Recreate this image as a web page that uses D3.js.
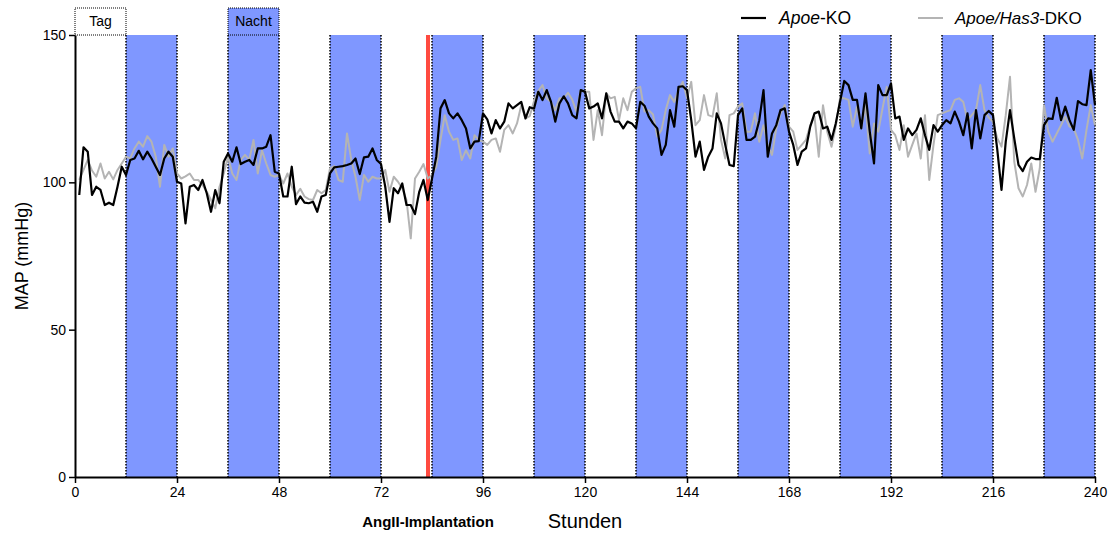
<!DOCTYPE html>
<html><head><meta charset="utf-8">
<script src="https://cdn.jsdelivr.net/npm/d3@7"></script>
<style>body{margin:0;background:#fff;} text{font-family:"Liberation Sans",Arial,sans-serif;}</style>
</head><body><svg id="c" width="1113" height="533"></svg>
<script>
const hours = d3.range(1, 241);
const apoeKO = [95.7,111.9,110.4,95.7,98.5,97.4,92.3,93.1,92.3,98.5,105.3,102.5,107.6,108.1,110.7,107.8,110.4,108.1,105.3,102.5,108.1,110.4,108.7,100.2,
99.6,86.1,98.5,99.1,97.4,100.8,96.3,90,97.4,92.9,107,109.8,107,111.9,106.2,107,107.6,105.9,111.5,111.5,112.1,116,103.6,103,
95.2,95.2,105.3,92.6,95.2,93.1,92.9,93.4,90,95.2,95.7,103,105.1,105.3,105.5,105.9,106.4,108.1,102.8,108.5,108.7,111.5,107.6,106.2,
98.5,86.6,98,96.3,99.6,92.3,92.3,89.2,96.8,100.8,94,101.3,108.7,125.1,127.9,123.4,121.7,123.4,121.1,118.3,111.5,113.8,114,123.4,
121.4,116.6,121.1,118.3,120.6,126.8,125.1,126.2,127.3,121.7,125.5,125,130.7,127.9,131.3,127.3,120.6,126.8,129.2,126.8,122.8,121.7,131.3,130.7,
125.1,125.7,126.8,121.7,130.2,124,120.6,120.6,118.3,120.6,120,118.3,127.3,126,122.3,120,118.3,109.3,112.7,124.5,118.9,132.4,132.6,131.3,
121.1,108.7,113.8,104.2,108.7,111.5,123.4,120,112.7,105.9,105.5,122.8,125.1,114.4,114.4,115.5,121,131.3,108.7,116.6,119.4,124.5,125.1,117.2,
112.7,105.9,110.4,111.5,118.9,123.4,124,118.3,118.9,114.4,120,127.3,134.4,133,128,128,118.3,130.2,117.2,106.4,133,129.6,129.6,133.6,
121.7,122.3,114.4,118.3,116,117.8,121.7,116,111,119.4,117.2,119.4,121.1,120,124,120.6,116,123.4,111.5,124.5,114.9,122.8,124.2,122.8,
111.2,97.4,113.8,124.5,114.9,105.9,103.8,107,108.4,107.9,107.9,119.4,121.7,121.5,128.7,121.1,125.7,121.1,117.8,127.6,126.5,126.2,138.1,126.2];
const apoeHas3 = [100.8,104.2,107.6,104,101.9,106.4,101.3,103.6,101,104.2,106.4,108.7,108.1,111.5,113.8,112.1,115.7,113.8,108.7,98.5,112.7,108.7,111.5,103,
101.3,102,103,100.8,100.8,99.1,96.8,94,91.2,98.5,103,108.7,103,100.8,107.6,109.3,107.6,114.4,103,110.9,106.4,102.5,101.9,102.5,
99.6,103,98.5,95.7,97.8,95.2,94.3,94,97.4,96.3,97.4,104.7,105.5,100.8,100.2,116.6,107.6,101.9,94,102.5,100.2,101.9,101.3,101.3,
104.2,96.8,101.9,100.2,98,94,81,101.3,103.6,106.2,101.3,102.5,105.3,114.4,122.8,117.2,114.4,114.9,107.6,110.9,108.1,116,114.4,113.8,
112.7,114.4,114.9,110.4,117.8,119.4,116.6,120,126.2,121.7,122.5,127.5,131,133,128.5,127.3,124.5,128.5,128.5,130.4,128,124,131.3,130.7,
130.7,114.4,124.5,116,130.2,128.5,129,121.1,128.5,124.5,130.7,131.9,132.4,124,124.5,123,115.5,117.8,124.5,129.6,127.3,131.3,134.1,128.5,
134.1,119.4,121.1,129.6,122.8,122.3,130.2,114.4,108.1,122.8,123.4,125.7,126.8,117.2,117.2,123.4,113.8,119.4,112.7,109.3,118.3,123.4,126.2,118.9,
117.2,111,112.7,114.4,119.4,122.3,108.7,126.2,117.2,112.1,118.9,128.5,128.5,128,118.9,125.7,118.3,126.2,109.8,120,117.2,125,132.4,117.8,
116,111,119.4,108.7,112.7,116.6,108.1,122.8,100.8,112.7,122.8,123.4,124,124.5,128,128.5,127.3,121.1,122.8,124.5,133,124.5,122,120.5,
115,112.1,122.8,135.8,107,98,95.2,99.1,106.4,96.8,104.7,126.2,117.2,113.8,116.6,119.4,122.3,118.9,118.3,114.4,108.1,117.8,126.2,119.4];
const nightStarts = [12,36,60,84,108,132,156,180,204,228];
const xTicks = [0,24,48,72,96,120,144,168,192,216,240];
const yTicks = [0,50,100,150];
const implantHour = 83.06;

const svg = d3.select("#c");
const L=75,R=1095,T=35,B=477;
const x = d3.scaleLinear().domain([0,240]).range([L,R]);
const y = d3.scaleLinear().domain([0,150]).range([B,T]);
const blue = "#7f97ff";

// night bands
const bands = svg.append("g");
nightStarts.forEach(s=>{
  bands.append("rect").attr("x",x(s)).attr("y",T).attr("width",x(s+12)-x(s)).attr("height",B-T).attr("fill",blue);
  [s,s+12].forEach(v=>bands.append("line").attr("x1",x(v)).attr("x2",x(v)).attr("y1",T).attr("y2",B)
    .attr("stroke","#000").attr("stroke-width",1.5).attr("stroke-dasharray","1.5,1.5"));
});
// implantation line
svg.append("line").attr("x1",x(implantHour)).attr("x2",x(implantHour)).attr("y1",T).attr("y2",B)
  .attr("stroke","#ff4a40").attr("stroke-width",4);

const line = d3.line().x((d,i)=>x(hours[i])).y(d=>y(d));
svg.append("path").datum(apoeHas3).attr("d",line).attr("fill","none").attr("stroke","#b4b4b4").attr("stroke-width",2).attr("stroke-linejoin","round");
svg.append("path").datum(apoeKO).attr("d",line).attr("fill","none").attr("stroke","#000").attr("stroke-width",2.2).attr("stroke-linejoin","round");

// axes
const xa = svg.append("g").attr("transform",`translate(0,${B})`)
  .call(d3.axisBottom(x).tickValues(xTicks).tickSize(6).tickPadding(4).tickSizeOuter(0));
const ya = svg.append("g").attr("transform",`translate(${L},0)`)
  .call(d3.axisLeft(y).tickValues(yTicks).tickSize(6).tickPadding(3).tickSizeOuter(0));
[xa,ya].forEach(a=>{
  a.select(".domain").attr("stroke","#000").attr("stroke-width",2);
  a.selectAll(".tick line").attr("stroke","#000").attr("stroke-width",1.5);
  a.selectAll(".tick text").attr("font-size",14).attr("fill","#000").style("font-family","Liberation Sans, Arial, sans-serif");
});

// titles
svg.append("text").attr("transform",`translate(28,${(T+B)/2}) rotate(-90)`).attr("text-anchor","middle")
  .attr("font-size",18).text("MAP (mmHg)");
svg.append("text").attr("x",585).attr("y",528).attr("text-anchor","middle").attr("font-size",20).text("Stunden");
svg.append("text").attr("x",x(implantHour)).attr("y",527).attr("text-anchor","middle").attr("font-size",15)
  .attr("font-weight","bold").text("AngII-Implantation");

// Tag / Nacht boxes
const boxes = [{s:0,label:"Tag",fill:"#fff"},{s:36,label:"Nacht",fill:blue}];
boxes.forEach(b=>{
  svg.append("rect").attr("x",x(b.s)).attr("y",8).attr("width",x(b.s+12)-x(b.s)).attr("height",T-8)
    .attr("fill",b.fill).attr("stroke","#000").attr("stroke-width",1).attr("stroke-dasharray","1,1");
  svg.append("text").attr("x",(x(b.s)+x(b.s+12))/2).attr("y",26).attr("text-anchor","middle").attr("font-size",14).text(b.label);
});

// legend
const lg = svg.append("g");
lg.append("line").attr("x1",741).attr("x2",766).attr("y1",18).attr("y2",18).attr("stroke","#000").attr("stroke-width",2.2);
const t1 = lg.append("text").attr("x",779).attr("y",24).attr("font-size",17.5);
t1.append("tspan").attr("font-style","italic").text("Apoe");
t1.append("tspan").text("-KO");
lg.append("line").attr("x1",918).attr("x2",943).attr("y1",18).attr("y2",18).attr("stroke","#b4b4b4").attr("stroke-width",2);
const t2 = lg.append("text").attr("x",955).attr("y",24).attr("font-size",17);
t2.append("tspan").attr("font-style","italic").text("Apoe/Has3");
t2.append("tspan").text("-DKO");
</script></body></html>
